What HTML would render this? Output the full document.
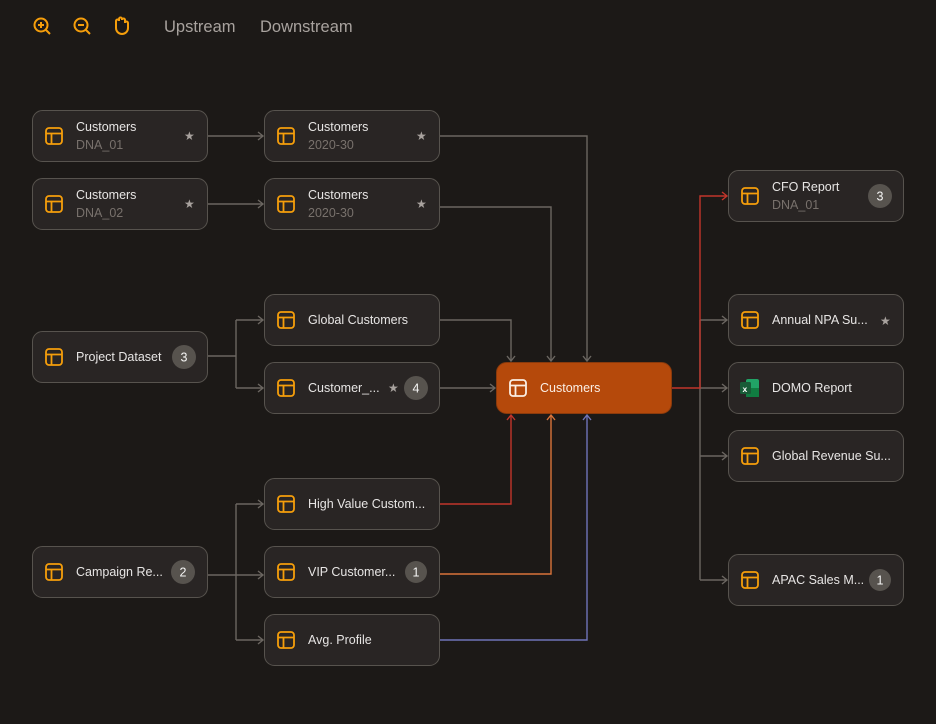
<!DOCTYPE html>
<html><head><meta charset="utf-8"><style>
html,body{margin:0;padding:0;background:#1c1917;}
svg{display:block;font-family:"Liberation Sans",sans-serif;}
.n{fill:#292524;stroke:#57534e;stroke-width:1;}
.t{fill:#e7e5e4;font-size:12.5px;}
.s{fill:#78716c;font-size:12.5px;}
.st{fill:#a8a29e;font-size:12px;}
.bd{fill:#57534e;}
.bt{fill:#f5f5f4;font-size:12.5px;text-anchor:middle;}
.e{fill:none;stroke:#6b6661;stroke-width:1.4;}
</style></head><body>
<svg width="936" height="724" viewBox="0 0 936 724" xmlns="http://www.w3.org/2000/svg">
<defs>
<marker id="ag" markerWidth="10" markerHeight="10" refX="7" refY="5" orient="auto" markerUnits="userSpaceOnUse"><path d="M2,1 L7,5 L2,9" fill="none" stroke="#6b6661" stroke-width="1.4"/></marker>
<marker id="ar" markerWidth="10" markerHeight="10" refX="7" refY="5" orient="auto" markerUnits="userSpaceOnUse"><path d="M2,1 L7,5 L2,9" fill="none" stroke="#c2352b" stroke-width="1.4"/></marker>
<marker id="ao" markerWidth="10" markerHeight="10" refX="7" refY="5" orient="auto" markerUnits="userSpaceOnUse"><path d="M2,1 L7,5 L2,9" fill="none" stroke="#d9733a" stroke-width="1.4"/></marker>
<marker id="ab" markerWidth="10" markerHeight="10" refX="7" refY="5" orient="auto" markerUnits="userSpaceOnUse"><path d="M2,1 L7,5 L2,9" fill="none" stroke="#6f74b8" stroke-width="1.4"/></marker>
<g id="ic"><rect x="0" y="0" width="16" height="16" rx="3" fill="none" stroke="#f59e0b" stroke-width="1.8"/><path d="M0,5.5 H16 M5.5,5.5 V16" stroke="#f59e0b" stroke-width="1.8"/></g>
</defs>

<!-- toolbar -->
<g fill="none" stroke="#f59e0b" stroke-width="2">
<circle cx="41" cy="25" r="6.5"/><path d="M46,30 L50,34 M38,25 H44 M41,22 V28"/>
<circle cx="81" cy="25" r="6.5"/><path d="M86,30 L90,34 M78,25 H84"/>
<path d="M116,28 V21 a1.5,1.5 0 0 1 3,0 V19 a1.5,1.5 0 0 1 3,0 V20 a1.5,1.5 0 0 1 3,0 V23 a1.5,1.5 0 0 1 3,0 V28 a6,6 0 0 1 -12,0 Z"/>
</g>
<text x="164" y="32" fill="#a8a29e" font-size="16.5">Upstream</text>
<text x="260" y="32" fill="#a8a29e" font-size="16.5">Downstream</text>

<!-- edges -->
<path class="e" d="M208,136 H263" marker-end="url(#ag)"/>
<path class="e" d="M208,204 H263" marker-end="url(#ag)"/>
<path class="e" d="M440,136 H587 V361" marker-end="url(#ag)"/>
<path class="e" d="M440,207 H551 V361" marker-end="url(#ag)"/>
<path class="e" d="M440,320 H511 V361" marker-end="url(#ag)"/>
<path class="e" d="M440,388 H495" marker-end="url(#ag)"/>
<path class="e" d="M208,356 H236 M236,320 V388"/>
<path class="e" d="M236,320 H263" marker-end="url(#ag)"/>
<path class="e" d="M236,388 H263" marker-end="url(#ag)"/>
<path class="e" d="M208,575 H236 M236,504 V640"/>
<path class="e" d="M236,504 H263" marker-end="url(#ag)"/>
<path class="e" d="M236,575 H263" marker-end="url(#ag)"/>
<path class="e" d="M236,640 H263" marker-end="url(#ag)"/>
<path fill="none" stroke="#c2352b" stroke-width="1.4" d="M440,504 H511 V415" marker-end="url(#ar)"/>
<path fill="none" stroke="#d9733a" stroke-width="1.4" d="M440,574 H551 V415" marker-end="url(#ao)"/>
<path fill="none" stroke="#6f74b8" stroke-width="1.4" d="M440,640 H587 V415" marker-end="url(#ab)"/>
<path class="e" d="M700,388 V580"/>
<path class="e" d="M700,320 H727" marker-end="url(#ag)"/>
<path class="e" d="M700,388 H727" marker-end="url(#ag)"/>
<path class="e" d="M700,456 H727" marker-end="url(#ag)"/>
<path class="e" d="M700,580 H727" marker-end="url(#ag)"/>
<path class="e" d="M700,320 V388"/>
<path fill="none" stroke="#c2352b" stroke-width="1.4" d="M672,388 H700 V196 H727" marker-end="url(#ar)"/>

<!-- left column -->
<rect class="n" x="32.5" y="110.5" width="175" height="51" rx="10"/><use href="#ic" x="46" y="128"/>
<text class="t" x="76" y="131">Customers</text><text class="s" x="76" y="149">DNA_01</text><text class="st" x="184" y="140">★</text>
<rect class="n" x="32.5" y="178.5" width="175" height="51" rx="10"/><use href="#ic" x="46" y="196"/>
<text class="t" x="76" y="199">Customers</text><text class="s" x="76" y="217">DNA_02</text><text class="st" x="184" y="208">★</text>
<rect class="n" x="32.5" y="331.5" width="175" height="51" rx="10"/><use href="#ic" x="46" y="349"/>
<text class="t" x="76" y="361">Project Dataset</text><circle class="bd" cx="184" cy="357" r="12"/><text class="bt" x="184" y="361.5">3</text>
<rect class="n" x="32.5" y="546.5" width="175" height="51" rx="10"/><use href="#ic" x="46" y="564"/>
<text class="t" x="76" y="576">Campaign Re...</text><circle class="bd" cx="183" cy="572" r="12"/><text class="bt" x="183" y="576.5">2</text>

<!-- middle column -->
<rect class="n" x="264.5" y="110.5" width="175" height="51" rx="10"/><use href="#ic" x="278" y="128"/>
<text class="t" x="308" y="131">Customers</text><text class="s" x="308" y="149">2020-30</text><text class="st" x="416" y="140">★</text>
<rect class="n" x="264.5" y="178.5" width="175" height="51" rx="10"/><use href="#ic" x="278" y="196"/>
<text class="t" x="308" y="199">Customers</text><text class="s" x="308" y="217">2020-30</text><text class="st" x="416" y="208">★</text>
<rect class="n" x="264.5" y="294.5" width="175" height="51" rx="10"/><use href="#ic" x="278" y="312"/>
<text class="t" x="308" y="324">Global Customers</text>
<rect class="n" x="264.5" y="362.5" width="175" height="51" rx="10"/><use href="#ic" x="278" y="380"/>
<text class="t" x="308" y="392">Customer_...</text><text class="st" x="388" y="392">★</text><circle class="bd" cx="416" cy="388" r="12"/><text class="bt" x="416" y="392.5">4</text>
<rect class="n" x="264.5" y="478.5" width="175" height="51" rx="10"/><use href="#ic" x="278" y="496"/>
<text class="t" x="308" y="508">High Value Custom...</text>
<rect class="n" x="264.5" y="546.5" width="175" height="51" rx="10"/><use href="#ic" x="278" y="564"/>
<text class="t" x="308" y="576">VIP Customer...</text><circle class="bd" cx="416" cy="572" r="11"/><text class="bt" x="416" y="576.5">1</text>
<rect class="n" x="264.5" y="614.5" width="175" height="51" rx="10"/><use href="#ic" x="278" y="632"/>
<text class="t" x="308" y="644">Avg. Profile</text>

<!-- center -->
<rect x="496.5" y="362.5" width="175" height="51" rx="10" fill="#b5490b" stroke="#8a3a0c"/>
<g transform="translate(510,380)"><rect x="0" y="0" width="16" height="16" rx="3" fill="none" stroke="#fbeee4" stroke-width="1.8"/><path d="M0,5.5 H16 M5.5,5.5 V16" stroke="#fbeee4" stroke-width="1.8"/></g>
<text x="540" y="392" fill="#fbeee4" font-size="12.5">Customers</text>

<!-- right column -->
<rect class="n" x="728.5" y="170.5" width="175" height="51" rx="10"/><use href="#ic" x="742" y="188"/>
<text class="t" x="772" y="191">CFO Report</text><text class="s" x="772" y="209">DNA_01</text><circle class="bd" cx="880" cy="196" r="12"/><text class="bt" x="880" y="200.5">3</text>
<rect class="n" x="728.5" y="294.5" width="175" height="51" rx="10"/><use href="#ic" x="742" y="312"/>
<text class="t" x="772" y="324">Annual NPA Su...</text><text class="st" x="880" y="325">★</text>
<rect class="n" x="728.5" y="362.5" width="175" height="51" rx="10"/>
<g transform="translate(740,379)"><rect x="6" y="0" width="13" height="18" rx="2" fill="#21a366"/><rect x="6" y="9" width="13" height="9" fill="#107c41"/><rect x="0" y="3" width="11" height="12" rx="1.5" fill="#185c37"/><text x="2.5" y="13" fill="#fff" font-size="8.5" font-weight="bold">x</text></g>
<text class="t" x="772" y="392">DOMO Report</text>
<rect class="n" x="728.5" y="430.5" width="175" height="51" rx="10"/><use href="#ic" x="742" y="448"/>
<text class="t" x="772" y="460">Global Revenue Su...</text>
<rect class="n" x="728.5" y="554.5" width="175" height="51" rx="10"/><use href="#ic" x="742" y="572"/>
<text class="t" x="772" y="584">APAC Sales M...</text><circle class="bd" cx="880" cy="580" r="11"/><text class="bt" x="880" y="584.5">1</text>
</svg>
</body></html>
